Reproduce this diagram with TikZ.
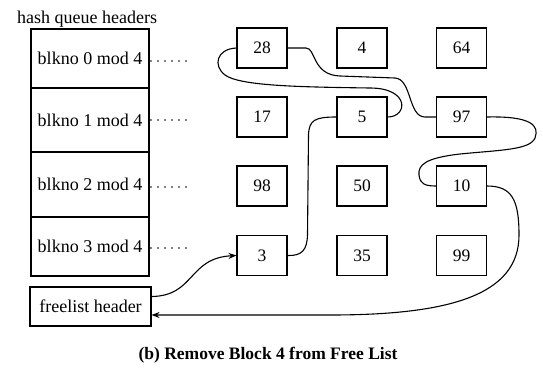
\documentclass[tikz,border=0pt]{standalone}
\usepackage{fontspec}
\setmainfont{Liberation Serif}
\usetikzlibrary{arrows.meta}
\begin{document}
\begin{tikzpicture}[x=1pt,y=-1pt,
  hq/.style={draw,line width=1.1pt,minimum width=118pt,inner sep=0pt,font=\fontsize{18}{20}\selectfont},
  blk/.style={draw,line width=1.1pt,minimum width=50pt,minimum height=40pt,inner sep=0pt,font=\fontsize{17.5}{20}\selectfont},
  link/.style={line width=1.1pt},
  arr/.style={line width=1.1pt,-{Stealth[length=8pt,width=6pt]}},
  dots/.style={line width=1.8pt,line cap=round,dash pattern=on 0pt off 7pt}
]
\useasboundingbox (0,0) rectangle (543,367);
\node[anchor=base west,font=\fontsize{18}{20}\selectfont,inner sep=0pt] (title) at (17,23) {hash queue headers};
\node[hq,minimum height=59pt] (h0) at (90,58.5) {blkno 0 mod 4};
\node[hq,minimum height=64pt] (h1) at (90,120) {blkno 1 mod 4};
\node[hq,minimum height=65pt] (h2) at (90,184.5) {blkno 2 mod 4};
\node[hq,minimum height=59pt] (h3) at (90,246.5) {blkno 3 mod 4};
\node[hq,minimum width=121pt,minimum height=39pt] (fl) at (90.5,306.5) {freelist header};
\foreach \n/\y in {h0/61,h1/120,h2/187,h3/248}{
  \coordinate (\n d) at (191,\y);
  \draw[dots] (\n.east |- \n d) ++(1.5,0) -- (\n d);
}
% blocks
\node[blk] (n28) at (262,48) {28};
\node[blk] (n4) at (362,48) {4};
\node[blk] (n64) at (461.5,48) {64};
\node[blk] (n17) at (262,117) {17};
\node[blk] (n5) at (362,117) {5};
\node[blk] (n97) at (461.5,117) {97};
\node[blk] (n98) at (262,186) {98};
\node[blk] (n50) at (362,186) {50};
\node[blk] (n10) at (461.5,186) {10};
\node[blk] (n3) at (262,255.5) {3};
\node[blk] (n35) at (362,255.5) {35};
\node[blk] (n99) at (461.5,255.5) {99};
% free list
\draw[arr] ([yshift=10pt]fl.east) .. controls (195,296) and (188,258) .. (n3.west);
\draw[link] (n3.east) .. controls (302,256) and (307,250) .. (307.5,235) -- (308.5,135) .. controls (309,120) and (315,117) .. (n5.west);
\draw[link] (n5.east) .. controls (408,117) and (410,88) .. (370,88) .. controls (300,87) and (240,86) .. (225,75) .. controls (213,66) and (216,49) .. (n28.west);
\draw[link] (n28.east) -- (306,48) .. controls (316,48) and (312,75) .. (340,76) -- (395,78) .. controls (412,79) and (408,117) .. (425,117) -- (n97.west);
\draw[link] (n97.east) .. controls (530,116) and (540,125) .. (535,138) .. controls (530,150) and (500,150) .. (460,154) .. controls (425,158) and (418,165) .. (419,175) .. controls (420,184) and (425,186) .. (n10.west);
\draw[arr] (n10.east) .. controls (512,186) and (519,200) .. (519,235) .. controls (519,295) and (450,315) .. (330,315) -- ([yshift=-8.5pt]fl.east);
\node[anchor=base,font=\bfseries\fontsize{17.5}{20}\selectfont,inner sep=0pt] (cap) at (268,359) {(b) Remove Block 4 from Free List};
\end{tikzpicture}
\end{document}
